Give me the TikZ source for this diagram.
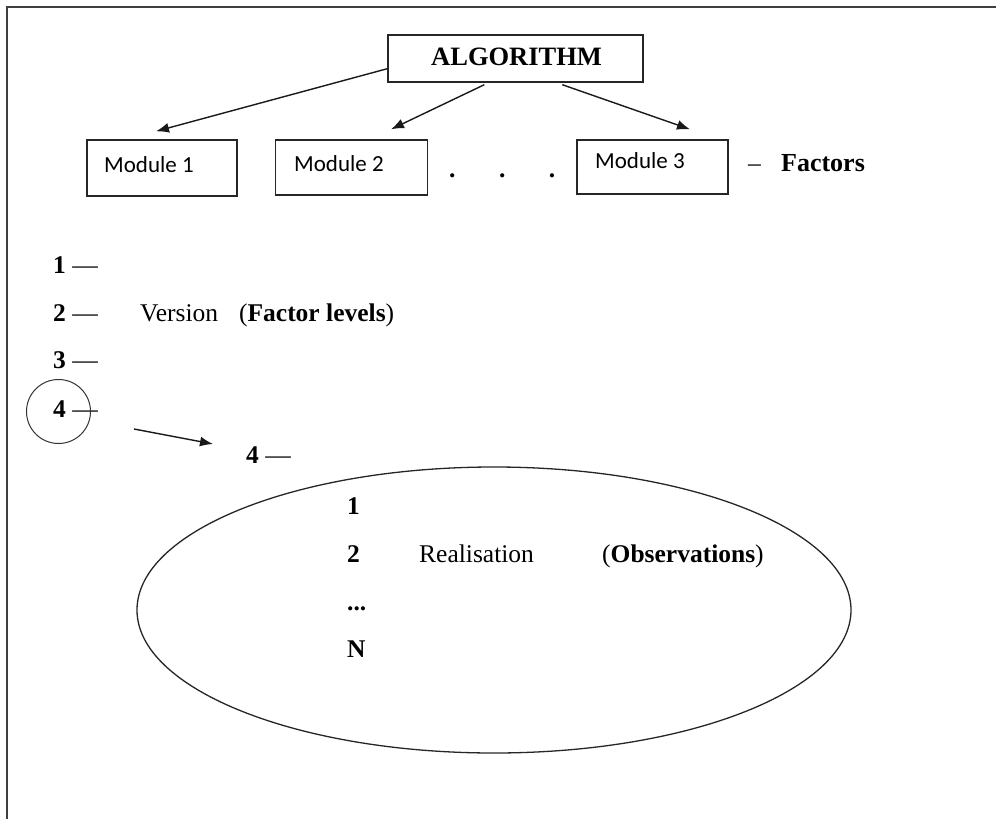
\documentclass[tikz,border=0pt]{standalone}
\usepackage{fontspec}
\setmainfont{Liberation Serif}
\newfontfamily\calibrifont{Carlito}
\usetikzlibrary{arrows.meta,shapes.geometric}
\begin{document}
\begin{tikzpicture}[x=1pt,y=-1pt,
  txt/.style={font=\fontsize{25.5}{30}\selectfont, inner sep=0pt, anchor=base west},
  modtxt/.style={font=\calibrifont\fontsize{23}{28}\selectfont, inner sep=0pt, anchor=base west},
  box/.style={draw=black!85, line width=1.4pt, rectangle, inner sep=0pt},
  arr/.style={draw=black!90, line width=1.4pt, -{Latex[length=13pt,width=10pt]}},
]
\useasboundingbox (0,0) rectangle (996,819);
\draw[line width=2pt, black!75] (996,7) -- (7,7) -- (7,819);

% top boxes
\node[box, minimum width=255pt, minimum height=47pt] (alg) at (515.5,58.5) {};
\node[txt, font=\bfseries\fontsize{26.5}{30}\selectfont] (algt) at (431,65) {ALGORITHM};

\node[box, minimum width=150pt, minimum height=56pt] (m1) at (162,168) {};
\node[box, minimum width=152pt, minimum height=55pt] (m2) at (351.5,167.5) {};
\node[box, minimum width=151pt, minimum height=54pt] (m3) at (652.5,167) {};
\node[modtxt] (m1t) at (104,172) {Module 1};
\node[modtxt] (m2t) at (294,171) {Module 2};
\node[modtxt] (m3t) at (595,168.5) {Module 3};

\node[txt] (dots) at (449,177) {\textbf{.}\hspace{43.5pt}\textbf{.}\hspace{43.5pt}\textbf{.}};
\node[txt] (fac) at (748,171) {--\hspace{20pt}\textbf{\fontsize{26}{30}\selectfont Factors}};

\draw[arr] ([yshift=14pt]alg.south west) -- ([xshift=-6pt,yshift=8pt]m1.north);
\draw[arr] ([xshift=97pt,yshift=-2pt]alg.south west) -- ([xshift=39.5pt,yshift=10pt]m2.north);
\draw[arr] ([xshift=175pt,yshift=-2pt]alg.south west) -- ([xshift=37.5pt,yshift=10pt]m3.north);

% factor levels
\node[txt] (l1) at (53,273) {\textbf{1} ---};
\node[txt] (l2) at (53,321) {\textbf{2} ---};
\node[txt] (ver) at (140,321) {Version\hspace{21pt}(\textbf{Factor levels})};
\node[txt] (l3) at (53,368) {\textbf{3} ---};
\node[txt] (l4) at (53,417) {\textbf{4} ---};
\node[draw=black!80, line width=1pt, circle, minimum size=64pt, inner sep=0pt] (c4) at (58.5,411.5) {};

\coordinate (s0) at (134,429);
\coordinate (s1) at (213,444);
\draw[arr] (s0) -- (s1);

\node[txt] (l4b) at (246,463) {\textbf{4} ---};

% observations
\node[draw=black!85, line width=1.3pt, ellipse, minimum width=714pt, minimum height=286pt, inner sep=0pt] (obs) at (494,610) {};
\node[txt] (o1) at (347,514) {\textbf{1}};
\node[txt] (o2) at (347,562) {\textbf{2}};
\node[txt] (real) at (419,562) {Realisation};
\node[txt] (obst) at (602,562) {(\textbf{Observations})};
\node[txt] (odots) at (347,610) {\textbf{...}};
\node[txt] (oN) at (347,657) {\textbf{N}};
\end{tikzpicture}
\end{document}
